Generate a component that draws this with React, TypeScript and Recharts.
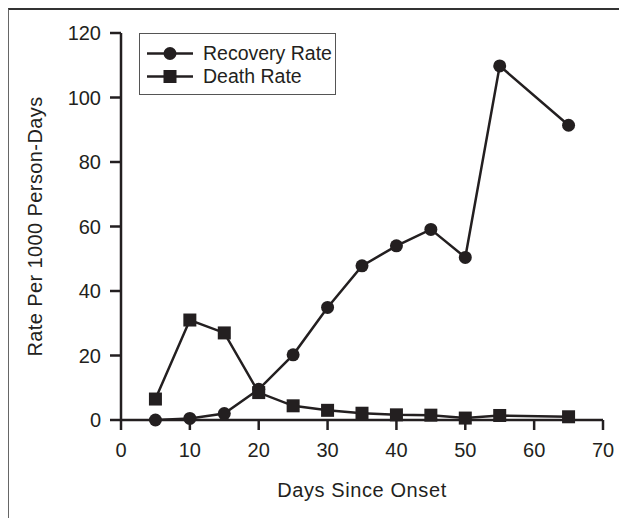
import { LineChart, Line, XAxis, YAxis } from "recharts"

const days = [5, 10, 15, 20, 25, 30, 35, 40, 45, 50, 55, 65]
const recoveryRate = [0, 0.5, 2, 9.5, 20.2, 34.9, 47.8, 54, 59.1, 50.4, 109.8, 91.4]
const deathRate = [6.5, 31, 27, 8.5, 4.4, 3, 2.1, 1.6, 1.5, 0.6, 1.4, 1.0]
const xTicks = [0, 10, 20, 30, 40, 50, 60, 70]
const yTicks = [0, 20, 40, 60, 80, 100, 120]

const data = days.map((d, i) => ({ day: d, recovery: recoveryRate[i], death: deathRate[i] }))

const INK = "#231f20"
const FONT = "'Liberation Sans', Arial, sans-serif"

const SquareDot = (props: any) => {
  const { cx, cy, index } = props
  return <rect key={`sq-${index}`} x={cx - 6.5} y={cy - 6.5} width={13} height={13} fill={INK} />
}

const CircleDot = (props: any) => {
  const { cx, cy, index } = props
  return <circle key={`ci-${index}`} cx={cx} cy={cy} r={6.5} fill={INK} />
}

const legendItems = [
  { name: "Recovery Rate", shape: "circle" },
  { name: "Death Rate", shape: "square" },
]

// legend box like the original figure
const LegendBox = () => (
  <div
    style={{
      position: "absolute",
      left: 139,
      top: 33,
      width: 197,
      height: 62,
      border: "1px solid #555",
      boxSizing: "border-box",
      background: "#fff",
      fontFamily: FONT,
      fontSize: 19.5,
      color: INK,
      paddingTop: 8,
    }}
  >
    {legendItems.map((item) => (
      <div key={item.name} style={{ display: "flex", alignItems: "center", height: 23 }}>
        <svg width={63} height={23} style={{ flex: "none" }}>
          <line x1={7} y1={11.5} x2={53} y2={11.5} stroke={INK} strokeWidth={2.5} />
          {item.shape === "circle" ? (
            <circle cx={30} cy={11.5} r={6.5} fill={INK} />
          ) : (
            <rect x={23.5} y={5} width={13} height={13} fill={INK} />
          )}
        </svg>
        <span>{item.name}</span>
      </div>
    ))}
  </div>
)

export default function App() {
  return (
    <div style={{ position: "fixed", left: 0, top: 0, width: 619, height: 518, background: "#fff", overflow: "hidden" }}>
      <div
        style={{
          position: "absolute",
          left: 8,
          top: 8,
          width: 640,
          height: 540,
          borderTop: "2px solid #333",
          borderLeft: "1.5px solid #666",
        }}
      />
      <LineChart
        width={619}
        height={518}
        data={data}
        margin={{ top: 33, right: 16, bottom: 68, left: 61 }}
        style={{ position: "absolute", left: 0, top: 0 }}
      >
        <XAxis
          dataKey="day"
          type="number"
          domain={[0, 70]}
          ticks={xTicks}
          height={30}
          tickSize={10}
          tickMargin={13}
          stroke={INK}
          strokeWidth={2.5}
          tick={{ fill: INK, fontSize: 20, fontFamily: FONT }}
          label={{
            value: "Days Since Onset",
            position: "bottom",
            offset: 33,
            fill: INK,
            fontSize: 20,
            fontFamily: FONT,
            letterSpacing: 0.6,
          }}
        />
        <YAxis
          type="number"
          domain={[0, 120]}
          ticks={yTicks}
          width={60}
          tickSize={11}
          tickMargin={9}
          stroke={INK}
          strokeWidth={2.5}
          tick={{ fill: INK, fontSize: 20, fontFamily: FONT }}
          label={{
            value: "Rate Per 1000 Person-Days",
            angle: -90,
            position: "center",
            dx: -56,
            fill: INK,
            fontSize: 20,
            fontFamily: FONT,
            letterSpacing: 0.4,
          }}
        />
        <Line
          dataKey="recovery"
          name="Recovery Rate"
          stroke={INK}
          strokeWidth={2.5}
          dot={CircleDot}
          activeDot={false}
          isAnimationActive={false}
        />
        <Line
          dataKey="death"
          name="Death Rate"
          stroke={INK}
          strokeWidth={2.5}
          dot={SquareDot}
          activeDot={false}
          isAnimationActive={false}
        />
      </LineChart>
      <LegendBox />
    </div>
  )
}
